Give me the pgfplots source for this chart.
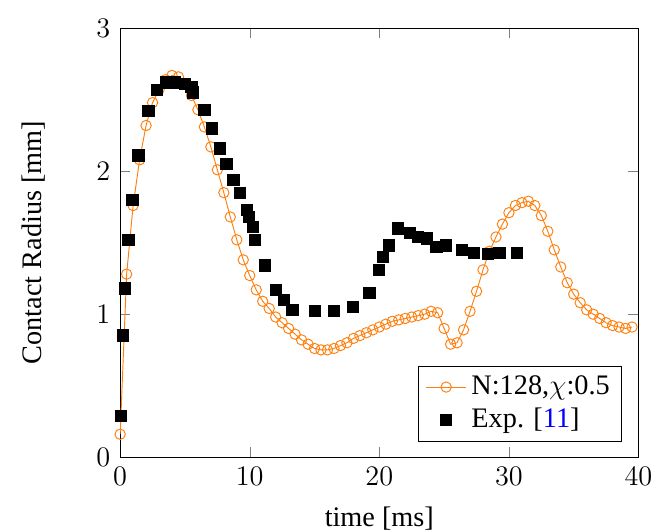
\documentclass[12pt,border=0pt]{standalone}
\usepackage{fontspec}
\setmainfont{Liberation Serif}
\usepackage{pgfplots}
\pgfplotsset{compat=1.18}

\pgfplotstableread{
t r
0.0 0.16
0.5 1.28
1.0 1.76
1.5 2.08
2.0 2.32
2.5 2.48
3.0 2.57
3.5 2.64
4.0 2.67
4.5 2.66
5.0 2.61
5.5 2.53
6.0 2.43
6.5 2.31
7.0 2.17
7.5 2.01
8.0 1.85
8.5 1.68
9.0 1.52
9.5 1.38
10.0 1.27
10.5 1.17
11.0 1.09
11.5 1.04
12.0 0.98
12.5 0.94
13.0 0.90
13.5 0.86
14.0 0.82
14.5 0.79
15.0 0.76
15.5 0.75
16.0 0.75
16.5 0.76
17.0 0.78
17.5 0.80
18.0 0.83
18.5 0.85
19.0 0.87
19.5 0.89
20.0 0.91
20.5 0.93
21.0 0.95
21.5 0.96
22.0 0.97
22.5 0.98
23.0 0.99
23.5 1.00
24.0 1.02
24.5 1.01
25.0 0.90
25.5 0.79
26.0 0.80
26.5 0.89
27.0 1.02
27.5 1.16
28.0 1.31
28.5 1.44
29.0 1.54
29.5 1.63
30.0 1.71
30.5 1.76
31.0 1.78
31.5 1.79
32.0 1.76
32.5 1.69
33.0 1.58
33.5 1.45
34.0 1.33
34.5 1.22
35.0 1.14
35.5 1.08
36.0 1.03
36.5 1.00
37.0 0.97
37.5 0.94
38.0 0.92
38.5 0.91
39.0 0.90
39.5 0.91
}\simdata

\pgfplotstableread{
t r
0.05 0.29
0.2 0.85
0.39 1.18
0.64 1.52
0.95 1.80
1.42 2.11
2.19 2.42
2.83 2.57
3.55 2.62
4.25 2.62
5.0 2.61
5.5 2.59
5.6 2.55
6.5 2.43
7.1 2.30
7.7 2.16
8.2 2.05
8.75 1.94
9.27 1.85
9.78 1.73
9.93 1.68
10.24 1.61
10.42 1.52
11.2 1.34
12.05 1.17
12.62 1.10
13.3 1.03
15.05 1.02
16.5 1.02
17.95 1.05
19.23 1.15
19.95 1.31
20.3 1.40
20.72 1.48
21.42 1.60
22.35 1.57
22.96 1.54
23.7 1.53
24.4 1.47
25.12 1.48
26.4 1.45
27.3 1.43
28.36 1.42
29.27 1.43
30.6 1.43
}\expdata

\definecolor{simorange}{RGB}{255,127,14}

\begin{document}
\begin{tikzpicture}
\begin{axis}[
    scale only axis,
    width=220pt, height=182pt,
    xmin=0, xmax=40, ymin=0, ymax=3,
    xtick={0,10,20,30,40},
    ytick={0,1,2,3},
    xlabel={time [ms]},
    ylabel={Contact Radius [mm]},
    ylabel shift=13.5pt,
    xlabel shift=1pt,
    legend style={at={(1,0)}, anchor=south east, xshift=-7pt, yshift=6.5pt,
        inner xsep=3pt},
    legend cell align=left,
]
\addplot[color=simorange, mark=o, mark size=2.2pt] table[x=t,y=r] {\simdata};
\addlegendentry{N:128,$\chi$:0.5}
\addplot[only marks, mark=square*, mark size=2.4pt, black] table[x=t,y=r] {\expdata};
\addlegendentry{Exp. [\textcolor{blue}{11}]}
\end{axis}
\pgfresetboundingbox
\path[use as bounding box] ([shift={(-51pt,-31.5pt)}]current axis.south west)
    rectangle ([shift={(7pt,12pt)}]current axis.north east);
\end{tikzpicture}
\end{document}
